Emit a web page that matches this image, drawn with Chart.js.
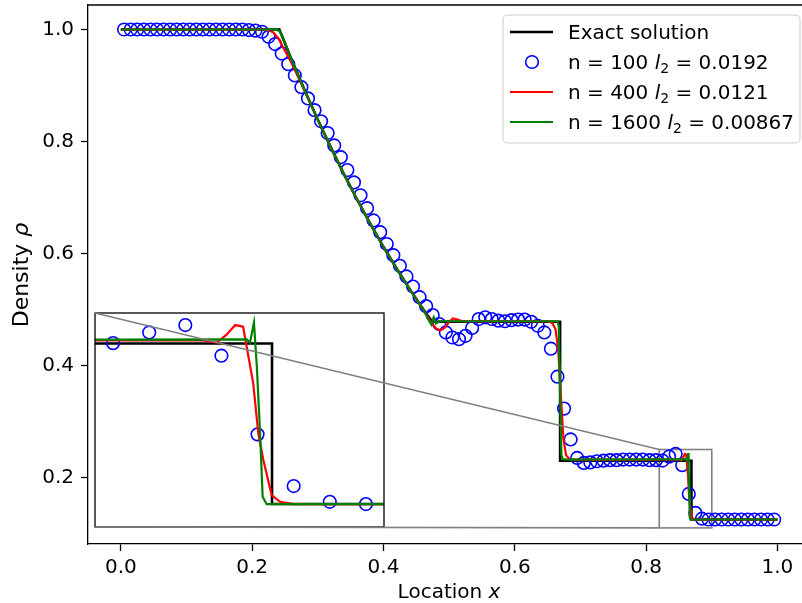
<!DOCTYPE html>
<html><head><meta charset="utf-8">
<script src="https://cdn.jsdelivr.net/npm/chart.js@4/dist/chart.umd.min.js"></script>
<style>
html,body{margin:0;padding:0;overflow:hidden;background:#fff;width:802px;height:603px}
#wrap{position:relative;width:802px;height:603px}
canvas{position:absolute;left:0;top:0}
</style></head><body>
<div id="wrap"><canvas id="main" width="802" height="603"></canvas><canvas id="inset" width="802" height="603"></canvas></div>
<script>
// ---- data ----
const xTicks=[0.0,0.2,0.4,0.6,0.8,1.0];
const yTicks=[0.2,0.4,0.6,0.8,1.0];
const legendLabels=['Exact solution','n = 100','n = 400','n = 1600'];
const l2Values=['0.0192','0.0121','0.00867'];

const exactX=[0,0.2415,0.26,0.28,0.30,0.32,0.34,0.36,0.38,0.40,0.42,0.44,0.46,0.4742,0.669,0.669,0.869,0.869,1.0];
const exactY=[1,1,0.9466,0.8915,0.839,0.789,0.7413,0.696,0.653,0.612,0.5733,0.5364,0.5015,0.478,0.478,0.230,0.230,0.125,0.125];

const n100X=[0.005,0.015,0.025,0.035,0.045,0.055,0.065,0.075,0.085,0.095,
0.105,0.115,0.125,0.135,0.145,0.155,0.165,0.175,0.185,0.195,
0.205,0.215,0.225,0.235,0.245,0.255,0.265,0.275,0.285,0.295,
0.305,0.315,0.325,0.335,0.345,0.355,0.365,0.375,0.385,0.395,
0.405,0.415,0.425,0.435,0.445,0.455,0.465,0.475,0.485,0.495,
0.505,0.515,0.525,0.535,0.545,0.555,0.565,0.575,0.585,0.595,
0.605,0.615,0.625,0.635,0.645,0.655,0.665,0.675,0.685,0.695,
0.705,0.715,0.725,0.735,0.745,0.755,0.765,0.775,0.785,0.795,
0.805,0.815,0.825,0.835,0.845,0.855,0.865,0.875,0.885,0.895,
0.905,0.915,0.925,0.935,0.945,0.955,0.965,0.975,0.985,0.995];
const n100Y=[1,1,1,1,1,1,1,1,1,1,
1,1,1,1,1,1,1,1,1,0.999,
0.998,0.996,0.987,0.974,0.957,0.938,0.918,0.897,0.877,0.856,
0.836,0.815,0.793,0.772,0.749,0.727,0.704,0.681,0.659,0.638,
0.617,0.597,0.578,0.559,0.541,0.522,0.506,0.49,0.474,0.459,
0.45,0.447,0.453,0.467,0.483,0.486,0.483,0.48,0.479,0.481,
0.482,0.482,0.478,0.471,0.459,0.43,0.38,0.323,0.268,0.235,
0.226,0.227,0.229,0.23,0.231,0.231,0.232,0.232,0.232,0.232,
0.231,0.231,0.2303,0.2373,0.2421,0.2221,0.1706,0.1368,0.1265,0.125,
0.125,0.125,0.125,0.125,0.125,0.125,0.125,0.125,0.125,0.125];

const n400X=[0,0.215,0.225,0.232,0.24,0.25,0.26,0.28,0.30,0.32,0.34,0.36,0.38,0.40,0.42,0.44,0.46,0.472,0.48,0.487,0.494,0.50,0.506,0.513,0.52,0.65,0.657,0.662,0.666,0.67,0.674,0.678,0.683,0.69,0.70,0.85,0.8537,0.8565,0.8588,0.861,0.8638,0.8652,0.8666,0.8689,0.8712,0.875,1.0];
const n400Y=[1,1,0.999,0.995,0.984,0.962,0.940,0.890,0.839,0.789,0.741,0.696,0.653,0.612,0.573,0.536,0.501,0.478,0.466,0.463,0.468,0.478,0.484,0.482,0.479,0.479,0.476,0.465,0.43,0.35,0.27,0.24,0.233,0.232,0.232,0.232,0.2306,0.236,0.2421,0.241,0.204,0.1713,0.1538,0.1309,0.1265,0.125,0.125];

const n1600X=[0,0.236,0.242,0.25,0.26,0.28,0.30,0.32,0.34,0.36,0.38,0.40,0.42,0.44,0.46,0.469,0.473,0.4765,0.48,0.485,0.49,0.665,0.667,0.669,0.671,0.673,0.68,0.862,0.8629,0.864,0.8648,0.8657,0.8664,0.8675,1.0];
const n1600Y=[1,1,0.997,0.976,0.946,0.891,0.839,0.789,0.741,0.696,0.653,0.612,0.573,0.536,0.501,0.481,0.473,0.486,0.475,0.479,0.479,0.479,0.47,0.35,0.24,0.233,0.232,0.2328,0.2306,0.2437,0.2149,0.1713,0.1298,0.125,0.125];

const insetXRange=[0.82,0.90];
const insetYRange=[0.11,0.25];

// ---- chart ----
const FONT='"DejaVu Sans", sans-serif';
Chart.defaults.font.family=FONT;
Chart.defaults.color='#000';
const pts=(xs,ys)=>xs.map((x,i)=>({x:x,y:ys[i]}));
function makeDatasets(clip){
  return [
    {label:legendLabels[0],data:pts(exactX,exactY),showLine:true,borderColor:'#000',borderWidth:2.6,pointRadius:0,order:3,clip:clip},
    {label:legendLabels[1],data:pts(n100X,n100Y),showLine:false,borderColor:'#0000ff',backgroundColor:'rgba(0,0,0,0)',pointRadius:6.3,pointBorderWidth:1.6,pointHoverRadius:6.3,order:2,clip:clip},
    {label:legendLabels[2],data:pts(n400X,n400Y),showLine:true,borderColor:'#ff0000',borderWidth:2.2,pointRadius:0,order:1,clip:clip},
    {label:legendLabels[3],data:pts(n1600X,n1600Y),showLine:true,borderColor:'#008000',borderWidth:2.2,pointRadius:0,order:0,clip:clip}
  ];
}

function drawParts(ctx,x,yBase,parts){
  for(const p of parts){
    ctx.font=(p.italic?'italic ':'')+p.size+'px '+FONT;
    ctx.fillText(p.t,x,yBase+(p.dy||0));
    x+=ctx.measureText(p.t).width;
  }
  return x;
}
function partsWidth(ctx,parts){
  let w=0;
  for(const p of parts){ctx.font=(p.italic?'italic ':'')+p.size+'px '+FONT;w+=ctx.measureText(p.t).width;}
  return w;
}

const mainPlugin={
  id:'mainDeco',
  beforeDatasetsDraw(chart){
    const ctx=chart.ctx,xs=chart.scales.x,ys=chart.scales.y;
    ctx.save();
    ctx.strokeStyle='#808080';ctx.lineWidth=1.6;
    const x1=xs.getPixelForValue(insetXRange[0]),x2=xs.getPixelForValue(insetXRange[1]);
    const y1=ys.getPixelForValue(insetYRange[1]),y2=ys.getPixelForValue(insetYRange[0]);
    ctx.strokeRect(x1,y1,x2-x1,y2-y1);
    ctx.restore();
  },
  afterDraw(chart){
    const ctx=chart.ctx,a=chart.chartArea;
    ctx.save();
    // top spine (the right spine lies just beyond the picture edge)
    ctx.strokeStyle='#000';ctx.lineWidth=1.3;
    ctx.beginPath();ctx.moveTo(a.left,a.top);ctx.lineTo(a.right,a.top);ctx.stroke();
    ctx.fillStyle='#000';ctx.textBaseline='alphabetic';
    const xt=[{t:'Location ',size:20},{t:'x',size:20,italic:true}];
    const wx=partsWidth(ctx,xt);
    drawParts(ctx,449-wx/2,598,xt);
    const yt=[{t:'Density ',size:22},{t:'ρ',size:22,italic:true}];
    const wy=partsWidth(ctx,yt);
    ctx.save();ctx.translate(28,275);ctx.rotate(-Math.PI/2);
    drawParts(ctx,-wy/2,0,yt);ctx.restore();
    // legend
    const lx=503,ly=15,lw=297,lh=128,r=5;
    ctx.beginPath();
    ctx.moveTo(lx+r,ly);ctx.lineTo(lx+lw-r,ly);ctx.quadraticCurveTo(lx+lw,ly,lx+lw,ly+r);
    ctx.lineTo(lx+lw,ly+lh-r);ctx.quadraticCurveTo(lx+lw,ly+lh,lx+lw-r,ly+lh);
    ctx.lineTo(lx+r,ly+lh);ctx.quadraticCurveTo(lx,ly+lh,lx,ly+lh-r);
    ctx.lineTo(lx,ly+r);ctx.quadraticCurveTo(lx,ly,lx+r,ly);ctx.closePath();
    ctx.fillStyle='rgba(255,255,255,0.8)';ctx.fill();
    ctx.strokeStyle='#cccccc';ctx.lineWidth=1;ctx.stroke();
    const ds=chart.data.datasets;
    for(let i=0;i<4;i++){
      const cy=32+30*i;
      if(i===1){
        ctx.strokeStyle=ds[i].borderColor;ctx.lineWidth=1.6;
        ctx.beginPath();ctx.arc(532,cy,6.3,0,Math.PI*2);ctx.stroke();
      }else{
        ctx.strokeStyle=ds[i].borderColor;ctx.lineWidth=ds[i].borderWidth;
        ctx.beginPath();ctx.moveTo(510,cy);ctx.lineTo(553,cy);ctx.stroke();
      }
      ctx.fillStyle='#000';
      let parts;
      if(i===0) parts=[{t:legendLabels[0],size:20}];
      else parts=[{t:legendLabels[i]+' ',size:20},{t:'l',size:20,italic:true},{t:'2',size:14,dy:4},{t:' = '+l2Values[i-1],size:20}];
      drawParts(ctx,568,cy+7.3,parts);
    }
    ctx.restore();
  }
};

const mainChart=new Chart(document.getElementById('main'),{
  type:'scatter',
  data:{datasets:makeDatasets(false)},
  options:{
    responsive:false,animation:false,devicePixelRatio:1,
    layout:{autoPadding:false,padding:{top:5,right:0,left:0,bottom:0}},
    plugins:{legend:{display:false},tooltip:{enabled:false}},
    events:[],
    scales:{
      x:{type:'linear',min:-0.05,max:1.0374,
        afterBuildTicks:s=>{s.ticks=xTicks.map(v=>({value:v}));},
        afterFit:s=>{s.height=59;s.paddingLeft=0;s.paddingRight=0;},
        ticks:{font:{size:20},color:'#000',padding:5,maxRotation:0,autoSkip:false,callback:v=>Number(v).toFixed(1)},
        grid:{drawOnChartArea:false,drawTicks:true,tickLength:7,tickColor:'#000',tickWidth:1.3},
        border:{display:true,color:'#000',width:1.3}},
      y:{type:'linear',min:0.08125,max:1.04375,
        afterBuildTicks:s=>{s.ticks=yTicks.map(v=>({value:v}));},
        afterFit:s=>{s.width=88;s.paddingTop=0;s.paddingBottom=0;},
        ticks:{font:{size:20},color:'#000',padding:7,autoSkip:false,callback:v=>Number(v).toFixed(1)},
        grid:{drawOnChartArea:false,drawTicks:true,tickLength:7,tickColor:'#000',tickWidth:1.3},
        border:{display:true,color:'#000',width:1.3}}
    }
  },
  plugins:[mainPlugin]
});

const insetPlugin={
  id:'insetDeco',
  beforeDatasetsDraw(chart){
    const ctx=chart.ctx,a=chart.chartArea;
    ctx.save();ctx.fillStyle='#fff';ctx.fillRect(a.left,a.top,a.right-a.left,a.bottom-a.top);ctx.restore();
  },
  afterDraw(chart){
    const ctx=chart.ctx,a=chart.chartArea;
    ctx.save();
    ctx.strokeStyle='#000';ctx.lineWidth=1.3;
    ctx.strokeRect(a.left,a.top,a.right-a.left,a.bottom-a.top);
    const xs=mainChart.scales.x,ys=mainChart.scales.y;
    const rx=xs.getPixelForValue(insetXRange[0]);
    const rt=ys.getPixelForValue(insetYRange[1]),rb=ys.getPixelForValue(insetYRange[0]);
    ctx.strokeStyle='#808080';ctx.lineWidth=1.6;
    ctx.beginPath();ctx.moveTo(a.left,a.top);ctx.lineTo(rx,rt);ctx.stroke();
    ctx.beginPath();ctx.moveTo(a.left,a.bottom);ctx.lineTo(rx,rb);ctx.stroke();
    ctx.restore();
  }
};

new Chart(document.getElementById('inset'),{
  type:'scatter',
  data:{datasets:makeDatasets(0)},
  options:{
    responsive:false,animation:false,devicePixelRatio:1,events:[],
    layout:{autoPadding:false,padding:{left:95,top:313,right:802-384,bottom:603-527}},
    plugins:{legend:{display:false},tooltip:{enabled:false}},
    scales:{
      x:{type:'linear',display:false,min:insetXRange[0],max:insetXRange[1]},
      y:{type:'linear',display:false,min:insetYRange[0],max:insetYRange[1]}
    }
  },
  plugins:[insetPlugin]
});
</script>
</body></html>
